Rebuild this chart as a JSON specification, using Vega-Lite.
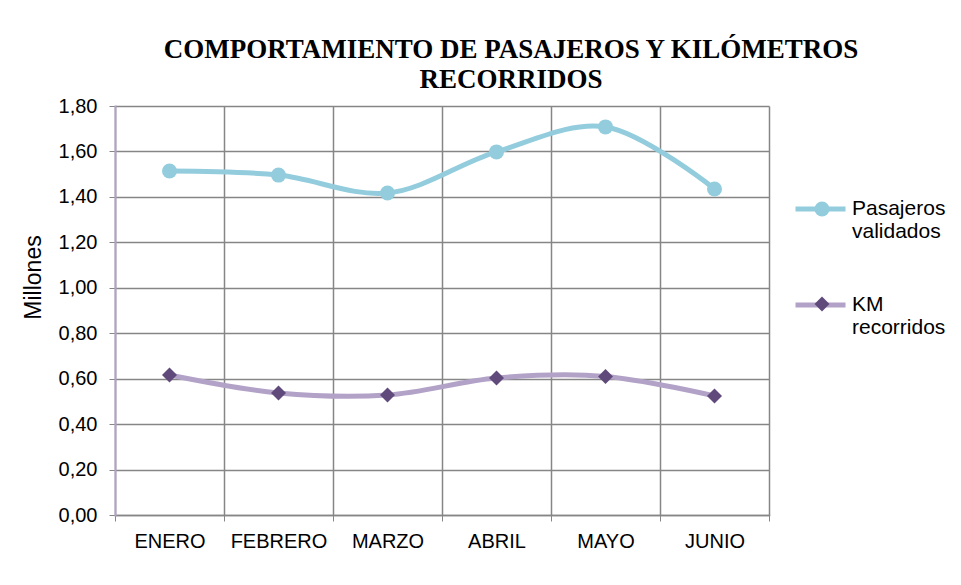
{
  "$schema": "https://vega.github.io/schema/vega-lite/v6.json",
  "width": 654,
  "height": 409,
  "autosize": {"type": "none"},
  "padding": {"left": 115, "top": 106, "right": 192, "bottom": 70},
  "background": "white",
  "title": {
    "text": ["COMPORTAMIENTO DE PASAJEROS Y KILÓMETROS", "RECORRIDOS"],
    "font": "Liberation Serif",
    "fontSize": 27,
    "fontWeight": "bold",
    "color": "black",
    "anchor": "middle",
    "dx": 69,
    "lineHeight": 30,
    "offset": 2
  },
  "data": {
    "values": [
      {"mes": "ENERO", "serie": "Pasajeros validados", "marcador": "P", "valor": 1.514},
      {"mes": "FEBRERO", "serie": "Pasajeros validados", "marcador": "P", "valor": 1.496},
      {"mes": "MARZO", "serie": "Pasajeros validados", "marcador": "P", "valor": 1.417},
      {"mes": "ABRIL", "serie": "Pasajeros validados", "marcador": "P", "valor": 1.598},
      {"mes": "MAYO", "serie": "Pasajeros validados", "marcador": "P", "valor": 1.708},
      {"mes": "JUNIO", "serie": "Pasajeros validados", "marcador": "P", "valor": 1.435},
      {"mes": "ENERO", "serie": "KM recorridos", "marcador": "K", "valor": 0.616},
      {"mes": "FEBRERO", "serie": "KM recorridos", "marcador": "K", "valor": 0.537},
      {"mes": "MARZO", "serie": "KM recorridos", "marcador": "K", "valor": 0.528},
      {"mes": "ABRIL", "serie": "KM recorridos", "marcador": "K", "valor": 0.603},
      {"mes": "MAYO", "serie": "KM recorridos", "marcador": "K", "valor": 0.610},
      {"mes": "JUNIO", "serie": "KM recorridos", "marcador": "K", "valor": 0.524}
    ]
  },
  "encoding": {
    "x": {
      "field": "mes",
      "type": "nominal",
      "sort": ["ENERO", "FEBRERO", "MARZO", "ABRIL", "MAYO", "JUNIO"],
      "scale": {"paddingInner": 0, "paddingOuter": 0},
      "axis": {
        "title": null,
        "labelAngle": 0,
        "labelFont": "Liberation Sans",
        "labelFontSize": 20,
        "labelColor": "black",
        "labelPadding": 10,
        "tickBand": "extent",
        "tickColor": "#868686",
        "tickSize": 6,
        "domainColor": "#868686",
        "domainWidth": 1.5,
        "grid": true,
        "gridColor": "#868686",
        "gridWidth": 1.5
      }
    },
    "y": {
      "field": "valor",
      "type": "quantitative",
      "scale": {"domain": [0, 1.8], "nice": false},
      "axis": {
        "title": "Millones",
        "titleFont": "Liberation Sans",
        "titleFontSize": 23,
        "titleFontWeight": "normal",
        "titleColor": "black",
        "titlePadding": 13,
        "titleY": 171,
        "values": [0, 0.2, 0.4, 0.6, 0.8, 1.0, 1.2, 1.4, 1.6, 1.8],
        "labelExpr": "replace(format(datum.value, '.2f'), '.', ',')",
        "labelFont": "Liberation Sans",
        "labelFontSize": 20,
        "labelColor": "black",
        "labelPadding": 12,
        "tickColor": "#868686",
        "tickSize": 6,
        "domainColor": "#B3A2C7",
        "domainWidth": 2,
        "grid": true,
        "gridColor": "#868686",
        "gridWidth": 1.5
      }
    }
  },
  "layer": [
    {
      "mark": {"type": "line", "interpolate": "catmull-rom", "strokeWidth": 5},
      "encoding": {
        "stroke": {
          "field": "serie",
          "type": "nominal",
          "scale": {"domain": ["Pasajeros validados", "KM recorridos"], "range": ["#93CDDD", "#B3A2C7"]},
          "legend": {
            "title": null,
            "orient": "none",
            "legendX": 678,
            "legendY": 83,
            "symbolType": "stroke",
            "symbolStrokeWidth": 5,
            "symbolSize": 2500,
            "clipHeight": 40,
            "rowPadding": 43,
            "labelFont": "Liberation Sans",
            "labelFontSize": 21,
            "labelColor": "black",
            "labelBaseline": "middle",
            "labelLimit": 200,
            "labelOffset": 4,
            "labelExpr": "datum.label == 'Pasajeros validados' ? ['Pasajeros', 'validados'] : ['KM', 'recorridos']"
          }
        }
      }
    },
    {
      "mark": {"type": "point", "filled": true, "opacity": 1, "size": 225},
      "encoding": {
        "fill": {
          "field": "marcador",
          "type": "nominal",
          "scale": {"domain": ["P", "K"], "range": ["#93CDDD", "#604A7B"]},
          "legend": {
            "title": null,
            "orient": "none",
            "legendX": 697,
            "legendY": 83,
            "symbolSize": 225,
            "symbolOpacity": 1,
            "symbolStrokeWidth": 0,
            "clipHeight": 40,
            "rowPadding": 55,
            "labelFontSize": 20,
            "labelOpacity": 0
          }
        },
        "shape": {
          "field": "marcador",
          "type": "nominal",
          "scale": {"domain": ["P", "K"], "range": ["circle", "diamond"]},
          "legend": {
            "title": null,
            "orient": "none",
            "legendX": 697,
            "legendY": 83,
            "symbolSize": 225,
            "symbolOpacity": 1,
            "symbolStrokeWidth": 0,
            "clipHeight": 40,
            "rowPadding": 55,
            "labelFontSize": 20,
            "labelOpacity": 0
          }
        }
      }
    }
  ],
  "config": {
    "view": {"stroke": null},
    "axis": {"domainCap": "square"}
  }
}
